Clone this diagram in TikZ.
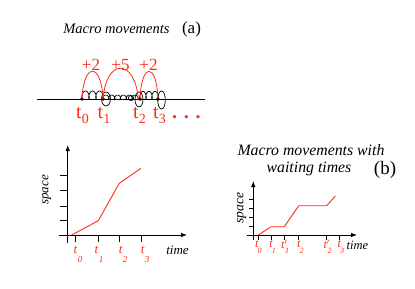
\documentclass[tikz,border=0pt]{standalone}
\usepackage{fontspec}
\setmainfont{Liberation Serif}
\usetikzlibrary{arrows.meta}
\definecolor{myred}{RGB}{255,45,20}
\newcommand\tsub[2]{#1\raisebox{-5pt}{\fontsize{14}{14}\selectfont #2}}
\begin{document}
\begin{tikzpicture}[x=1pt,y=-1pt,
  axisline/.style={line width=0.8pt,-{Latex[length=6pt,width=4.5pt]}},
  tickline/.style={line width=0.7pt},
  curve/.style={myred,line width=0.9pt},
  loop/.style={black,line width=0.7pt},
  hop/.style={myred,line width=0.8pt},
  bigt/.style={myred,anchor=base west,inner sep=0pt,font=\fontsize{20}{20}\selectfont},
  hoplabel/.style={myred,inner sep=0pt,font=\fontsize{17}{17}\selectfont},
  ital/.style={inner sep=0pt,font=\fontsize{13}{13}\selectfont\itshape},
  tlab/.style={myred,inner sep=0pt,font=\fontsize{13}{13}\selectfont\itshape},
  slab/.style={myred,inner sep=0pt,font=\fontsize{9}{9}\selectfont\itshape},
  dot/.style={circle,fill=black,inner sep=0pt,minimum size=3.6pt}]
\useasboundingbox (0,0) rectangle (415,289);

% ---------- top: macro movements (a)
\node[inner sep=0pt,font=\fontsize{14.5}{14.5}\selectfont\itshape] (ta) at (116.5,29) {Macro movements};
\node[inner sep=0pt,font=\fontsize{17}{17}\selectfont] (la) at (191.5,29) {(a)};

\coordinate (lineL) at (37,99);
\coordinate (lineR) at (205,99);
\draw[line width=0.8pt] (lineL) -- (lineR);

% loops (trochoids: humps above the line, small loops at the bottom)
\draw[loop] plot[domain=0:18.85,samples=150,smooth] ({82+1.114*\x-1.7*sin(\x r)},{95+4*cos(\x r)});
\draw[loop] plot[domain=0:37.7,samples=250,smooth] ({103+0.928*\x-1.5*sin(\x r)},{97.5+2.4*cos(\x r)});
\draw[loop] plot[domain=0:18.85,samples=150,smooth] ({140+0.955*\x-1.5*sin(\x r)},{95.2+3.8*cos(\x r)});
\draw[loop] (131,98) circle[radius=2.6];
\draw[loop] (106,99) ellipse[x radius=4.5,y radius=7];
\draw[loop] (139,99.5) ellipse[x radius=4,y radius=7.5];
\draw[loop] (161.5,100) ellipse[x radius=3.8,y radius=9];

\node[dot] (d0) at (82,99) {};
\node[dot] (d1) at (103,99) {};
\node[dot] (d2) at (140,99) {};
\node[dot] (d3) at (158,99) {};

\draw[hop] (d0.center) .. controls (83.5,62) and (101.5,62) .. (d1.center);
\draw[hop] (d1.center) .. controls (106,58) and (135,58) .. (138.3,99);
\draw[hop] (d2.center) .. controls (141.5,62) and (156.5,62) .. (d3.center);

\node[hoplabel] (h1) at (91,65) {+2};
\node[hoplabel] (h2) at (120.5,65) {+5};
\node[hoplabel] (h3) at (148.5,65) {+2};

\node[bigt] (t0) at (76,118) {\tsub{t}{0}};
\node[bigt] (t1) at (97.5,118) {\tsub{t}{1}};
\node[bigt] (t2) at (133,118) {\tsub{t}{2}};
\node[bigt] (t3) at (153,118) {\tsub{t}{3}};
\node[bigt] (td) at (172,118) {\textbf{. . .}};

% ---------- bottom left graph
\coordinate (ay0) at (67.7,243);
\coordinate (ay1) at (67.7,145);
\coordinate (ax0) at (59,235);
\coordinate (ax1) at (187,235);
\draw[axisline] (ay0) -- (ay1);
\draw[axisline] (ax0) -- (ax1);
\foreach \y in {220.7,206,190.7,175.7} \draw[tickline] (60,\y) -- (67.7,\y);
\foreach \x in {75.7,98.3,119.3,141.7} \draw[tickline] (\x,235) -- (\x,241.7);
\draw[curve] (71.7,235) -- (98.3,220.7) -- (119.3,183.3) -- (141,168.3);
\node[ital,rotate=90] (spa) at (46.7,190) {space};
\node[ital] (tia) at (177.5,250) {time};
\foreach \x/\s in {75.5/0,96.5/1,120.7/2,142.7/3}{
  \node[tlab] at (\x,249.5) {t};
  \node[slab] at (\x+4.5,259.5) {\s};
}

% ---------- right: (b)
\node[inner sep=0pt,font=\fontsize{15.8}{15.8}\selectfont\itshape] (tb1) at (311,150) {Macro movements with};
\node[inner sep=0pt,font=\fontsize{15.8}{15.8}\selectfont\itshape] (tb2) at (309,168.5) {waiting times};
\node[inner sep=0pt,font=\fontsize{19}{19}\selectfont] (lb) at (385,170) {(b)};

\coordinate (by0) at (253.3,240);
\coordinate (by1) at (253.3,181);
\coordinate (bx0) at (246.7,235);
\coordinate (bx1) at (357,235);
\draw[axisline] (by0) -- (by1);
\draw[axisline] (bx0) -- (bx1);
\foreach \y in {226.7,217.3,208.3,199} \draw[tickline] (249.3,\y) -- (253.3,\y);
\foreach \x in {258.3,271,284.3,298.7,326.7,339.3} \draw[tickline] (\x,235) -- (\x,240);
\draw[curve] (258.3,235) -- (271,226.7) -- (284.3,226.7) -- (298.7,205.7) -- (326.7,205.7) -- (335.3,196);
\node[ital,rotate=90,font=\fontsize{13.5}{13.5}\selectfont\itshape] (spb) at (241.7,208) {space};
\node[ital,font=\fontsize{12.5}{12.5}\selectfont\itshape] (tib) at (357.5,245) {time};
\foreach \x/\s/\p in {256.7/0/,271/1/,284.3/1/$'$,298.7/2/,326.7/2/$'$,339.3/3/}{
  \node[tlab,font=\fontsize{12}{12}\selectfont\itshape] at (\x,244.5) {t\p};
  \node[slab,font=\fontsize{8}{8}\selectfont\itshape] at (\x+2.8,250.5) {\s};
}
\end{tikzpicture}
\end{document}
